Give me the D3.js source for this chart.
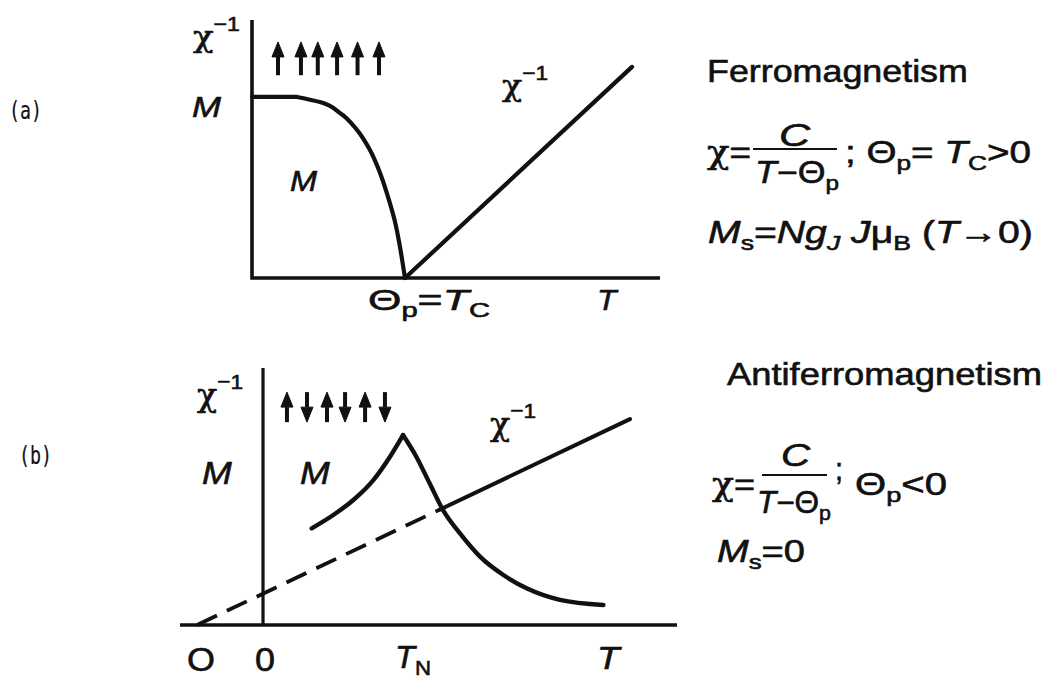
<!DOCTYPE html>
<html><head><meta charset="utf-8">
<script src="https://cdn.jsdelivr.net/npm/d3@7"></script>
<style>body{margin:0;background:#fff}svg{display:block}</style>
</head><body>
<svg id="chart" width="1051" height="681"></svg>
<script>
// (a) Ferromagnet — T in units of Tc, M in units of M(0)
const ferroT  = [0, 0.294, 0.444, 0.575, 0.686, 0.771, 0.837, 0.889, 0.932, 0.963, 0.988, 1.0];
const ferroM  = [1.0, 1.0, 0.972, 0.912, 0.818, 0.707, 0.580, 0.448, 0.320, 0.193, 0.065, 0.0];
const ferroChiInvT = [1.0, 2.484];
const ferroChiInv  = [0.0, 1.166];
const ferroSpinT   = [0.17, 0.32, 0.43, 0.556, 0.69, 0.83];
const ferroSpinDir = [1, 1, 1, 1, 1, 1];

// (b) Antiferromagnet — T in units of TN, chi peaks at TN
const afT   = [0.348, 0.502, 0.645, 0.788, 0.907, 1.0, 1.095, 1.190, 1.286, 1.407, 1.55, 1.717, 1.883, 2.121, 2.431];
const afChi = [0.509, 0.579, 0.658, 0.763, 0.886, 1.0, 0.886, 0.746, 0.605, 0.482, 0.360, 0.263, 0.193, 0.132, 0.105];
const afChiInvT = [-0.471, 1.264, 2.621];   // Θp, end of extrapolation, end of line
const afChiInv  = [0.0, 0.608, 1.084];
const afSpinT   = [0.171, 0.314, 0.457, 0.586, 0.729, 0.871];
const afSpinDir = [1, -1, 1, -1, 1, -1];

const svg = d3.select("#chart");
const INK = "#111";
const FONT = "'Liberation Sans', Arial, Helvetica, sans-serif";
const GREEK = "'DejaVu Serif', serif";
const MONO = "'DejaVu Sans Mono', 'Liberation Mono', monospace";

// text built from pieces; stretched horizontally to a given width
function label(x, y, width, parts, size, opts = {}) {
  const t = svg.append("text")
    .attr("font-family", opts.family || FONT)
    .attr("font-size", size)
    .attr("fill", INK)
    .attr("stroke", INK)
    .attr("stroke-width", opts.stroke == null ? 0.6 : opts.stroke)
    .style("white-space", "pre");
  let shift = 0;
  parts.forEach(p => {
    const s = p.sub ? size * 0.24 : p.sup ? -size * 0.55 : 0;
    const ts = t.append("tspan").text(p.t).attr("dy", s - shift);
    shift = s;
    if (p.i) ts.attr("font-style", "italic");
    if (p.g) ts.attr("font-family", GREEK);
    if (p.sub || p.sup) ts.attr("font-size", size * 0.68);
  });
  const bb = t.node().getBBox();
  const k = width ? width / bb.width : 1;
  const x0 = opts.center ? x - (bb.width * k) / 2 : x;
  t.attr("transform", `translate(${x0},${y}) scale(${k},1) translate(${-bb.x},0)`);
  return t;
}

function spins(xs, ys, T, dir, lo, hi) {
  T.forEach((t, i) => {
    const cx = xs(t), top = ys(hi), bot = ys(lo);
    const tip = dir[i] > 0 ? top : bot;
    const base = dir[i] > 0 ? top + 15 : bot - 15;
    const tail = dir[i] > 0 ? bot : top;
    svg.append("line").attr("x1", cx).attr("x2", cx).attr("y1", base).attr("y2", tail)
      .attr("stroke", INK).attr("stroke-width", 4);
    svg.append("path")
      .attr("d", `M${cx},${tip}L${cx - 6},${base}L${cx + 6},${base}Z`)
      .attr("fill", INK).attr("stroke", INK).attr("stroke-width", 1).attr("stroke-linejoin", "round");
  });
}

// ---------- (a) ferromagnetism ----------
const xa = d3.scaleLinear().domain([0, 2.667]).range([252, 660]);
const ya = d3.scaleLinear().domain([0, 1.425]).range([278, 20]);

svg.append("path")
  .attr("d", d3.line()([[xa(0), ya(ya.domain()[1])], [xa(0), ya(0)], [xa(xa.domain()[1]), ya(0)]]))
  .attr("fill", "none").attr("stroke", INK).attr("stroke-width", 3.6);

// flat plateau, then a monotone fall to zero at Tc
const magA = ferroT.map((t, i) => [t, ferroM[i]]);
const lineA = d3.line().x(d => xa(d[0])).y(d => ya(d[1]));
svg.append("path")
  .attr("d", lineA(magA.slice(0, 2)) + lineA.curve(d3.curveMonotoneY)(magA.slice(1)).replace(/^M[^CL]*/, ""))
  .attr("fill", "none").attr("stroke", INK).attr("stroke-width", 4.2).attr("stroke-linecap", "round");
lineA.curve(d3.curveLinear);

const chiA = ferroChiInvT.map((t, i) => [t, ferroChiInv[i]]);
svg.append("path")
  .attr("d", lineA(chiA))
  .attr("fill", "none").attr("stroke", INK).attr("stroke-width", 4.2).attr("stroke-linecap", "round");

spins(xa, ya, ferroSpinT, ferroSpinDir, 1.12, 1.304);

label(193, 47, 47, [{t: "χ", g: 1}, {t: "−1", sup: 1}], 30);
label(192, 117, 30, [{t: "M", i: 1}], 29);
label(290, 191, 28, [{t: "M", i: 1}], 29);
label(502, 96, 46, [{t: "χ", g: 1}, {t: "−1", sup: 1}], 30);
label(368, 310, 122, [{t: "Θ"}, {t: "p", sub: 1}, {t: "="}, {t: "T", i: 1}, {t: "C", sub: 1}], 29);
label(597, 310, 22, [{t: "T", i: 1}], 29);

label(9, 119, 33, [{t: "(a)"}], 25, {family: MONO, stroke: 0.2});

label(707, 82, 261, [{t: "Ferromagnetism"}], 31);
label(707, 163, 44, [{t: "χ", g: 1}, {t: "="}], 31);
label(795, 146, 32, [{t: "C", i: 1}], 31, {center: true});
svg.append("line").attr("x1", 753).attr("x2", 837).attr("y1", 149).attr("y2", 149)
  .attr("stroke", INK).attr("stroke-width", 2.2);
label(755, 183, 84, [{t: "T", i: 1}, {t: "−Θ"}, {t: "p", sub: 1}], 31);
label(845, 163, 186, [{t: "; Θ"}, {t: "p", sub: 1}, {t: "= "}, {t: "T", i: 1}, {t: "C", sub: 1}, {t: ">0"}], 31);
label(708, 243, 325, [{t: "M", i: 1}, {t: "s", sub: 1}, {t: "="}, {t: "Ng", i: 1}, {t: "J", i: 1, sub: 1},
  {t: " J", i: 1}, {t: "μ"}, {t: "B", sub: 1}, {t: " ("}, {t: "T", i: 1}, {t: "→0)"}], 31);

// ---------- (b) antiferromagnetism ----------
const xb = d3.scaleLinear().domain([-0.593, 2.957]).range([180, 677]);
const yb = d3.scaleLinear().domain([0, 1.353]).range([625, 368]);

svg.append("path")
  .attr("d", d3.line()([[xb(xb.domain()[0]), yb(0)], [xb(xb.domain()[1]), yb(0)]]))
  .attr("fill", "none").attr("stroke", INK).attr("stroke-width", 3.6);
svg.append("path")
  .attr("d", d3.line()([[xb(0), yb(yb.domain()[1])], [xb(0), yb(0)]]))
  .attr("fill", "none").attr("stroke", INK).attr("stroke-width", 3.2);

const lineB = d3.line().x(d => xb(d[0])).y(d => yb(d[1]));
const chiInvB = afChiInvT.map((t, i) => [t, afChiInv[i]]);
svg.append("path").attr("d", lineB(chiInvB.slice(0, 2)))
  .attr("fill", "none").attr("stroke", INK).attr("stroke-width", 3.8).attr("stroke-dasharray", "22,11");
svg.append("path").attr("d", lineB(chiInvB.slice(1)))
  .attr("fill", "none").attr("stroke", INK).attr("stroke-width", 4).attr("stroke-linecap", "round");

const peak = afChi.indexOf(d3.max(afChi));
const chiB = afT.map((t, i) => [t, afChi[i]]);
const curveB = d3.line().x(d => xb(d[0])).y(d => yb(d[1])).curve(d3.curveMonotoneX);
[chiB.slice(0, peak + 1), chiB.slice(peak)].forEach(seg => {
  svg.append("path").attr("d", curveB(seg))
    .attr("fill", "none").attr("stroke", INK).attr("stroke-width", 4.4)
    .attr("stroke-linecap", "round").attr("stroke-linejoin", "round");
});

spins(xb, yb, afSpinT, afSpinDir, 1.068, 1.226);

label(197, 406, 46, [{t: "χ", g: 1}, {t: "−1", sup: 1}], 31);
label(202, 484, 30, [{t: "M", i: 1}], 31);
label(300, 484, 30, [{t: "M", i: 1}], 31);
label(490, 435, 46, [{t: "χ", g: 1}, {t: "−1", sup: 1}], 31);
label(xb(afChiInvT[0]) + 4, 671, 28, [{t: "O"}], 33, {center: true});
label(xb(0) + 2, 671, 20, [{t: "0"}], 33, {center: true});
label(395, 668, 36, [{t: "T", i: 1}, {t: "N", sub: 1}], 31);
label(597, 669, 25, [{t: "T", i: 1}], 31);

label(19, 464, 33, [{t: "(b)"}], 25, {family: MONO, stroke: 0.2});

label(727, 385, 315, [{t: "Antiferromagnetism"}], 31);
label(712, 495, 43, [{t: "χ", g: 1}, {t: "="}], 31);
label(796, 466, 30, [{t: "C", i: 1}], 31, {center: true});
svg.append("line").attr("x1", 762).attr("x2", 827).attr("y1", 475).attr("y2", 475)
  .attr("stroke", INK).attr("stroke-width", 2.2);
label(757, 513, 74, [{t: "T", i: 1}, {t: "−Θ"}, {t: "p", sub: 1}], 31);
label(835, 480, 8, [{t: ";"}], 31);
label(855, 495, 92, [{t: "Θ"}, {t: "p", sub: 1}, {t: "<0"}], 31);
label(717, 562, 88, [{t: "M", i: 1}, {t: "s", sub: 1}, {t: "=0"}], 31);
</script>
</body></html>
